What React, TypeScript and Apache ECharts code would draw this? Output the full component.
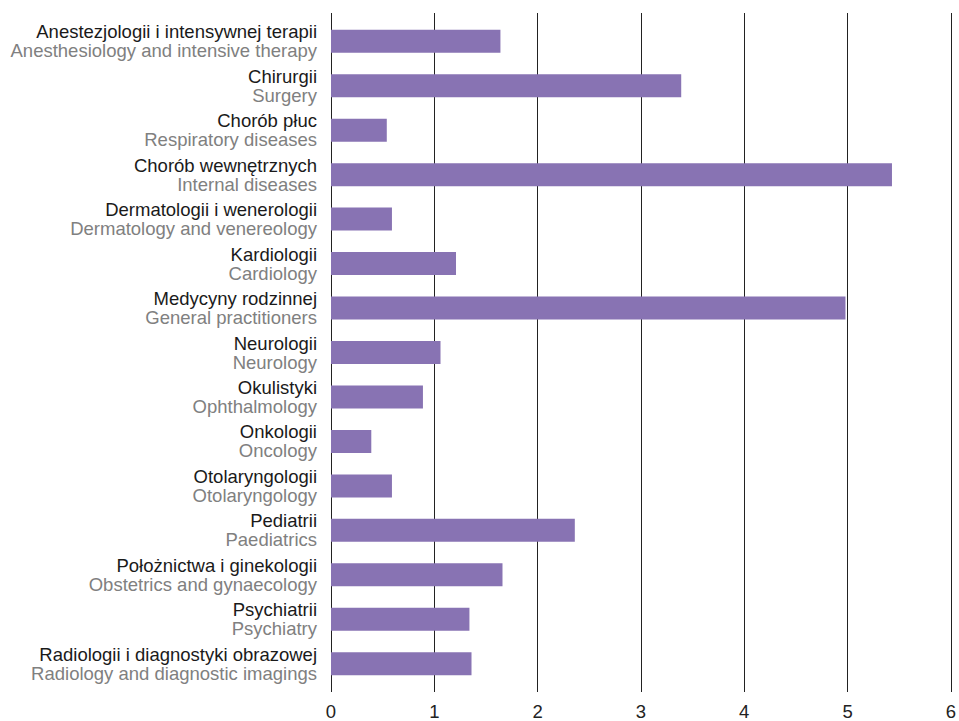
import React, { useEffect, useRef } from "react";
import * as echarts from "echarts";

const categoriesPl = [
  "Anestezjologii i intensywnej terapii",
  "Chirurgii",
  "Chorób płuc",
  "Chorób wewnętrznych",
  "Dermatologii i wenerologii",
  "Kardiologii",
  "Medycyny rodzinnej",
  "Neurologii",
  "Okulistyki",
  "Onkologii",
  "Otolaryngologii",
  "Pediatrii",
  "Położnictwa i ginekologii",
  "Psychiatrii",
  "Radiologii i diagnostyki obrazowej",
];

const categoriesEn = [
  "Anesthesiology and intensive therapy",
  "Surgery",
  "Respiratory diseases",
  "Internal diseases",
  "Dermatology and venereology",
  "Cardiology",
  "General practitioners",
  "Neurology",
  "Ophthalmology",
  "Oncology",
  "Otolaryngology",
  "Paediatrics",
  "Obstetrics and gynaecology",
  "Psychiatry",
  "Radiology and diagnostic imagings",
];

const values = [1.64, 3.39, 0.54, 5.43, 0.59, 1.21, 4.98, 1.06, 0.89, 0.39, 0.59, 2.36, 1.66, 1.34, 1.36];

const xTicks = [0, 1, 2, 3, 4, 5, 6];

export default function App() {
  const ref = useRef<HTMLDivElement>(null);
  useEffect(() => {
    if (!ref.current) return;
    const chart = echarts.init(ref.current, undefined, { renderer: "svg" });
    const font = "Liberation Sans";
    chart.setOption({
      animation: false,
      textStyle: { fontFamily: font },
      grid: { left: 331, right: 4, top: 19, bottom: 34, containLabel: false },
      xAxis: [
        {
          type: "value",
          min: xTicks[0],
          max: xTicks[xTicks.length - 1],
          interval: 1,
          position: "bottom",
          axisLine: { show: false },
          axisTick: { show: true, length: 6, lineStyle: { color: "#222", width: 1 } },
          splitLine: { show: true, lineStyle: { color: "#222", width: 1 } },
          axisLabel: { color: "#222", fontSize: 18.5, fontFamily: font, margin: 16 },
        },
        {
          type: "value",
          min: xTicks[0],
          max: xTicks[xTicks.length - 1],
          interval: 1,
          position: "top",
          axisLine: { show: false },
          axisTick: { show: true, length: 6, lineStyle: { color: "#222", width: 1 } },
          splitLine: { show: false },
          axisLabel: { show: false },
        },
      ],
      yAxis: {
        type: "category",
        inverse: true,
        data: categoriesPl.map((p, i) => p + "\n" + categoriesEn[i]),
        axisLine: { show: false },
        axisTick: { show: false },
        axisLabel: {
          margin: 14,
          fontFamily: font,
          formatter: (v: string) => {
            const [a, b] = v.split("\n");
            return "{a|" + a + "}\n{b|" + b + "}";
          },
          rich: {
            a: { fontSize: 18.5, color: "#1a1a1a", fontFamily: font, lineHeight: 19, align: "right" },
            b: { fontSize: 18.5, color: "#808080", fontFamily: font, lineHeight: 19, align: "right" },
          },
        },
      },
      series: [
        {
          type: "bar",
          xAxisIndex: 0,
          data: values,
          barWidth: 23,
          itemStyle: { color: "#8873b3" },
        },
      ],
    });
    return () => chart.dispose();
  }, []);
  return <div ref={ref} style={{ width: 959, height: 721, position: "absolute", left: 0, top: 0 }} />;
}
